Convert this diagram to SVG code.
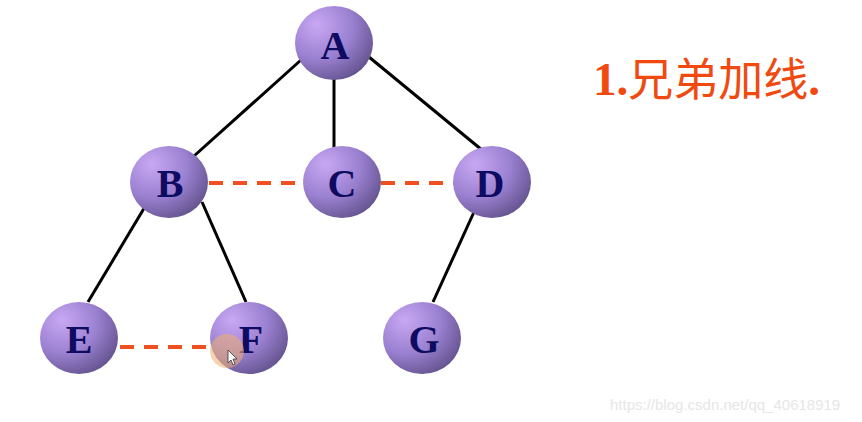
<svg xmlns="http://www.w3.org/2000/svg" width="862" height="422" viewBox="0 0 862 422">
<defs>
<radialGradient id="ball" cx="0.32" cy="0.3" r="0.8" fx="0.28" fy="0.25">
<stop offset="0" stop-color="#c8a8f4"/>
<stop offset="0.55" stop-color="#9a80d0"/>
<stop offset="1" stop-color="#60508a"/>
</radialGradient>
</defs>
<style>
.n ellipse{fill:url(#ball);}
.n text{font-family:"Liberation Serif","DejaVu Serif",serif;font-weight:bold;font-size:40px;fill:#0e0c62;text-anchor:middle;}
.e{stroke:#000;stroke-width:3;fill:none;}
.d{stroke:#f05020;stroke-width:4;stroke-dasharray:14 10;fill:none;}
</style>
<rect width="862" height="422" fill="#fff"/>
<g id="connectors">
<line class="e" x1="301" y1="60" x2="194" y2="156"/>
<line class="e" x1="334" y1="79" x2="334" y2="148"/>
<line class="e" x1="369" y1="57" x2="482" y2="150"/>
<line class="e" x1="146" y1="205" x2="88" y2="302"/>
<line class="e" x1="202" y1="202" x2="246" y2="302"/>
<line class="e" x1="474" y1="212" x2="433" y2="302"/>
<line class="d" x1="209" y1="183" x2="304" y2="183"/>
<line class="d" x1="381" y1="183" x2="456" y2="183"/>
<line class="d" x1="120" y1="347" x2="212" y2="347"/>
</g>
<g id="A" class="n"><ellipse cx="334" cy="43" rx="39" ry="37"/><text x="335" y="59">A</text></g>
<g id="B" class="n"><ellipse cx="169" cy="182" rx="39" ry="36"/><text x="170" y="197">B</text></g>
<g id="C" class="n"><ellipse cx="342" cy="182" rx="39" ry="36"/><text x="342" y="197">C</text></g>
<g id="D" class="n"><ellipse cx="492" cy="182" rx="39" ry="36"/><text x="490" y="197">D</text></g>
<g id="E" class="n"><ellipse cx="79" cy="338" rx="39" ry="36"/><text x="79" y="353">E</text></g>
<g id="F" class="n"><ellipse cx="249" cy="338" rx="39" ry="36"/><text x="251" y="353">F</text></g>
<g id="G" class="n"><ellipse cx="422" cy="338" rx="39" ry="36"/><text x="424" y="353">G</text></g>
<circle cx="227" cy="351" r="17" fill="#f0b070" opacity="0.55"/>
<path d="M228 350 L228 363 L231 360 L233 365 L235 364 L233 359 L237 359 Z" fill="#fff" stroke="#333" stroke-width="0.8"/>
<text x="593" y="95" font-family="Liberation Serif,'Noto Sans CJK SC',serif" font-size="47" fill="#f04a10"><tspan font-weight="bold">1.</tspan><tspan font-family="'Noto Sans CJK SC',sans-serif" font-size="45" dy="1">兄弟加线</tspan><tspan font-weight="bold" dy="-1">.</tspan></text>
<text x="610" y="410" font-family="Liberation Sans,Arial,sans-serif" font-size="15" fill="#e6e6e6">https://blog.csdn.net/qq_40618919</text>
</svg>
